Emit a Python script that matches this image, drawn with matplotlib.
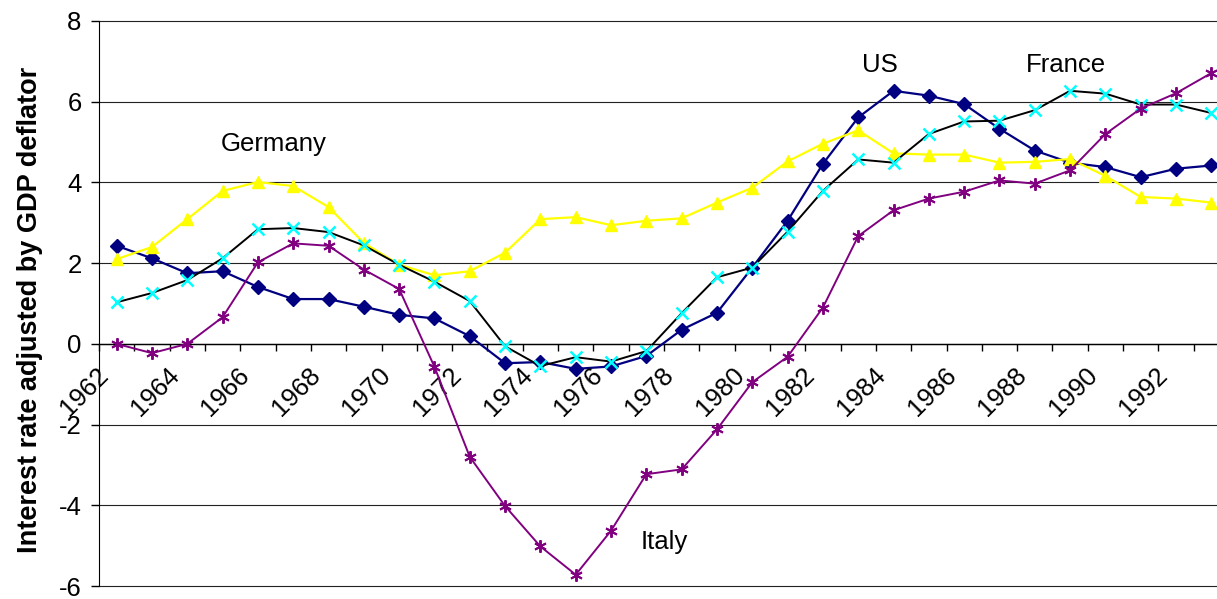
import matplotlib
matplotlib.use("Agg")
import matplotlib.pyplot as plt
import matplotlib.transforms as mtransforms
import numpy as np

plt.rcParams['font.family'] = ['Liberation Sans', 'DejaVu Sans']

years = list(range(1962, 1994))

us = [2.43, 2.12, 1.75, 1.80, 1.41, 1.11, 1.11, 0.92, 0.72, 0.63, 0.19,
      -0.48, -0.45, -0.62, -0.56, -0.30, 0.35, 0.77, 1.89, 3.05, 4.46,
      5.61, 6.27, 6.15, 5.94, 5.33, 4.79, 4.49, 4.38, 4.13, 4.34, 4.42]

france = [1.03, 1.26, 1.58, 2.12, 2.84, 2.87, 2.77, 2.44, 1.96, 1.54, 1.06,
          -0.06, -0.55, -0.33, -0.44, -0.18, 0.76, 1.65, 1.89, 2.78, 3.79,
          4.57, 4.49, 5.20, 5.51, 5.53, 5.79, 6.27, 6.20, 5.93, 5.93, 5.72]

germany = [2.10, 2.40, 3.09, 3.79, 4.01, 3.91, 3.39, 2.50, 1.96, 1.70, 1.80,
           2.26, 3.09, 3.14, 2.94, 3.05, 3.11, 3.50, 3.87, 4.52, 4.96,
           5.29, 4.72, 4.69, 4.69, 4.49, 4.51, 4.58, 4.16, 3.64, 3.60, 3.50]

italy = [0.00, -0.23, 0.00, 0.66, 2.02, 2.49, 2.43, 1.84, 1.36, -0.57, -2.80,
         -4.02, -5.02, -5.72, -4.63, -3.23, -3.11, -2.12, -0.95, -0.32, 0.90,
         2.67, 3.31, 3.60, 3.77, 4.05, 3.97, 4.30, 5.20, 5.83, 6.21, 6.71]

y_ticks = [-6, -4, -2, 0, 2, 4, 6, 8]
y_label = "Interest rate adjusted by GDP deflator"

W, H = 1217, 599
fig = plt.figure(figsize=(W / 100, H / 100), dpi=100)
ax = fig.add_axes([99 / W, 13 / H, 1130 / W, 565 / H])

x = np.arange(len(years))
FS = 18.5

# series
ax.plot(x, us, color='#000080', lw=1.6, marker='D', ms=7,
        mfc='#000080', mec='#000080', zorder=3, clip_on=False)
ax.plot(x, germany, color='#FFFF00', lw=1.6, marker='^', ms=9,
        mfc='#FFFF00', mec='#FFFF00', zorder=3, clip_on=False)
ax.plot(x, france, color='black', lw=1.4, marker='x', ms=8.5,
        mfc='#00FFFF', mec='#00FFFF', mew=1.8, zorder=4, clip_on=False)
ax.plot(x, italy, color='#800080', lw=1.4, marker=(6, 2, 0), ms=9,
        mec='#800080', mew=1.4, zorder=5, clip_on=False)

# axes
ax.set_xlim(-0.5, len(years) - 0.5)
ax.set_ylim(-6, 8)
ax.set_yticks(y_ticks)
ax.set_yticklabels([str(v) for v in y_ticks], fontsize=FS)
ax.tick_params(axis='y', direction='out', length=6, width=1, pad=6.5)
ax.yaxis.grid(True, color='#222222', lw=0.8)
for gl in ax.get_ygridlines():
    gl.set_clip_on(False)
ax.set_axisbelow(True)

for s in ('top', 'right'):
    ax.spines[s].set_visible(False)
ax.spines['left'].set_color('black')
ax.spines['bottom'].set_position(('data', 0))
ax.spines['bottom'].set_color('black')
ax.spines['bottom'].set_linewidth(1.0)

ax.set_xticks([])
ax.set_xticks(np.arange(-0.5, len(years) + 0.5, 1), minor=True)
ax.tick_params(axis='x', which='minor', direction='out', length=5, width=1,
               labelbottom=False)

# rotated year labels under the zero line
offset = mtransforms.ScaledTranslation(-12 / 100, -28 / 100, fig.dpi_scale_trans)
for i, yr in enumerate(years):
    if i % 2 == 0:
        ax.text(i, 0, str(yr), rotation=45, ha='right', va='center',
                rotation_mode='anchor', fontsize=FS,
                transform=ax.transData + offset, clip_on=False)

# country annotations
ax.text(21.12, 6.74, "US", fontsize=FS, ha='left', va='baseline')
ax.text(25.74, 6.74, "France", fontsize=FS, ha='left', va='baseline')
ax.text(2.96, 4.77, "Germany", fontsize=FS, ha='left', va='baseline')
ax.text(14.83, -5.09, "Italy", fontsize=FS, ha='left', va='baseline')

fig.text(30 / W, 1 - 310 / H, y_label, rotation=90, fontsize=19.5,
         fontweight='bold', ha='center', va='center')

fig.savefig("out.png", dpi=100, facecolor='white')
